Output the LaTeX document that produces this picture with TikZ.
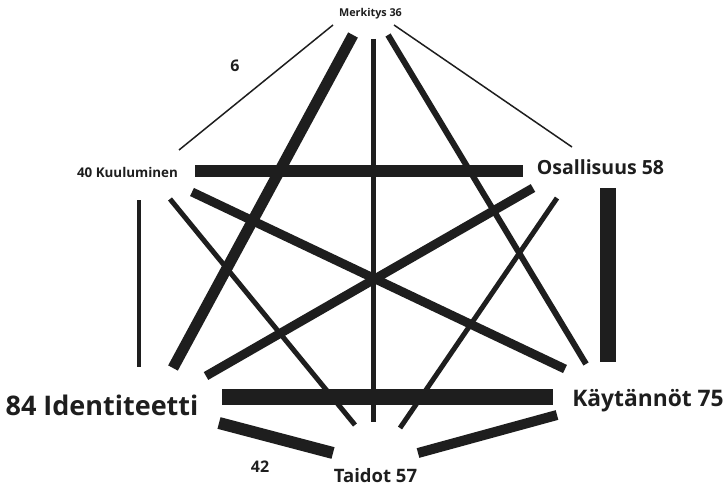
\documentclass[tikz,border=0pt]{standalone}
\usepackage{fontspec}
\setmainfont{Open Sans}
\definecolor{ink}{HTML}{1E1E1E}
\begin{document}
\begin{tikzpicture}[x=1pt,y=-1pt,
  lbl/.style={font=\bfseries\fontsize{#1}{#1}\selectfont, text=ink, inner sep=0pt},
  edge/.style={draw=ink, line cap=butt, line width=#1}]
\useasboundingbox (0,0) rectangle (727,487);
% labels
\node[lbl=10.8] (merk) at (370.5,14) {Merkitys 36};
\node[lbl=16] (six) at (235,66) {6};
\node[lbl=13.4] (kuul) at (127.5,172) {40 Kuuluminen};
\node[lbl=19.5] (osal) at (600.5,167) {Osallisuus 58};
\node[lbl=27] (iden) at (102,405) {84 Identiteetti};
\node[lbl=16] (ff) at (260,467) {42};
\node[lbl=18.5] (taid) at (375.5,475.5) {Taidot 57};
\node[lbl=22.8] (kayt) at (648,401) {Käytännöt 75};
% endpoints
\coordinate (m1) at (333,25);   \coordinate (k1) at (179,150);
\coordinate (m2) at (394,25);   \coordinate (o1) at (572,147);
\coordinate (m3) at (353,35);   \coordinate (i1) at (173,368);
\coordinate (m4) at (373,39);   \coordinate (t1) at (373,422);
\coordinate (m5) at (388,35);   \coordinate (c1) at (586,364);
\coordinate (k2) at (195,170.5);\coordinate (o2) at (523,170.5);
\coordinate (k3) at (138.5,200);\coordinate (i2) at (138.5,367);
\coordinate (k4) at (192,192);  \coordinate (c2) at (565,369);
\coordinate (k5) at (170,199);  \coordinate (t2) at (355,425);
\coordinate (o3) at (533,188);  \coordinate (i3) at (206,376);
\coordinate (o4) at (557,198);  \coordinate (t3) at (400,428);
\coordinate (o5) at (607.5,188);\coordinate (c3) at (607.5,362);
\coordinate (i4) at (222,397);  \coordinate (c4) at (553,397);
\coordinate (i5) at (219,423);  \coordinate (t4) at (333,453);
\coordinate (t5) at (418,453);  \coordinate (c5) at (557,415);
% connectors
\draw[edge=1.5pt] (m1) -- (k1);
\draw[edge=1.5pt] (m2) -- (o1);
\draw[edge=11pt] (m3) -- (i1);
\draw[edge=5pt] (m4) -- (t1);
\draw[edge=6pt] (m5) -- (c1);
\draw[edge=12pt] (k2) -- (o2);
\draw[edge=4pt] (k3) -- (i2);
\draw[edge=9pt] (k4) -- (c2);
\draw[edge=5pt] (k5) -- (t2);
\draw[edge=9pt] (o3) -- (i3);
\draw[edge=5pt] (o4) -- (t3);
\draw[edge=16pt] (o5) -- (c3);
\draw[edge=16pt] (i4) -- (c4);
\draw[edge=12pt] (i5) -- (t4);
\draw[edge=10pt] (t5) -- (c5);
\end{tikzpicture}
\end{document}
